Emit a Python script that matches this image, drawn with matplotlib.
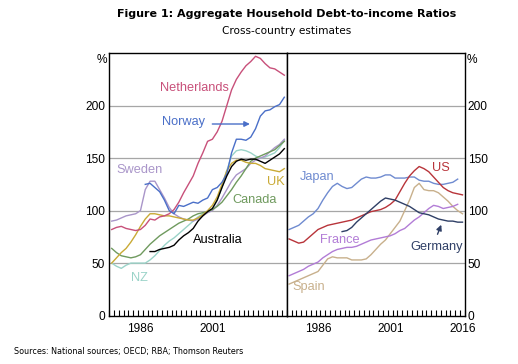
import matplotlib
matplotlib.use("Agg")
import matplotlib.pyplot as plt
import numpy as np

# ---------------- data (annual, plotted at mid-year) ----------------
yrs_full = list(range(1980, 2017))

netherlands = [82, 84, 85, 83, 82, 81, 82, 86, 92, 91, 94, 95, 97, 101, 108, 117, 125, 133, 145, 155,
               166, 168, 175, 185, 200, 215, 225, 232, 238, 242, 247, 245, 240, 236, 235, 232, 229]
sweden = [90, 91, 93, 95, 96, 97, 100, 120, 128, 128, 120, 112, 103, 97, 94, 92, 91, 90, 92, 95,
          98, 100, 105, 112, 120, 128, 134, 137, 140, 145, 148, 150, 152, 156, 160, 163, 168]
uk = [50, 55, 60, 64, 70, 77, 85, 92, 97, 97, 96, 95, 95, 94, 93, 92, 91, 91, 93, 96,
      100, 105, 113, 125, 138, 145, 148, 148, 146, 145, 145, 143, 140, 139, 138, 137, 140]
canada = [64, 60, 57, 56, 55, 56, 58, 63, 68, 72, 76, 79, 82, 85, 88, 90, 92, 95, 97, 98,
          99, 101, 104, 108, 114, 120, 127, 133, 140, 147, 150, 152, 154, 156, 158, 162, 166]
nz = [50, 47, 45, 48, 50, 50, 50, 50, 53, 57, 62, 67, 71, 74, 78, 82, 86, 90, 94, 97,
      99, 101, 110, 122, 138, 152, 157, 158, 157, 155, 152, 150, 151, 153, 155, 160, 167]

yrs_norway = list(range(1987, 2017))
norway = [125, 126, 122, 118, 110, 100, 97, 105, 104, 106, 108, 107, 110, 112, 120, 122, 127, 135,
          155, 168, 168, 167, 170, 178, 190, 195, 196, 199, 201, 208]

yrs_australia = list(range(1988, 2017))
australia = [61, 61, 63, 64, 65, 67, 72, 76, 79, 83, 90, 95, 99, 102, 110, 122, 133, 142, 147, 149,
             148, 149, 149, 147, 145, 148, 151, 154, 159]

yrs_japan = list(range(1980, 2016))
japan = [82, 84, 86, 90, 94, 97, 102, 110, 117, 123, 126, 123, 121, 122, 126, 130, 132, 131, 131, 132,
         134, 134, 131, 131, 131, 132, 132, 129, 128, 128, 126, 125, 125, 126, 127, 130]
us = [73, 71, 69, 70, 74, 78, 82, 84, 86, 87, 88, 89, 90, 91, 93, 95, 97, 99, 100, 101,
      103, 106, 110, 118, 126, 133, 138, 142, 140, 137, 132, 127, 122, 119, 117, 116, 115]
yrs_france = list(range(1980, 2016))
france = [38, 40, 42, 44, 47, 49, 51, 55, 58, 61, 63, 64, 65, 65, 66, 68, 70, 72, 73, 74,
          75, 76, 78, 81, 83, 87, 91, 94, 98, 102, 105, 104, 102, 103, 104, 106]
spain = [30, 32, 34, 36, 38, 40, 42, 48, 54, 56, 55, 55, 55, 53, 53, 53, 54, 58, 63, 68,
         72, 78, 84, 90, 100, 110, 122, 126, 120, 119, 119, 117, 113, 109, 104, 100, 97]
yrs_germany = list(range(1991, 2017))
germany = [80, 81, 84, 89, 93, 97, 101, 105, 109, 112, 111, 110, 108, 106, 104, 101, 98, 97, 96, 94,
           92, 91, 90, 90, 89, 89]

yticks = [0, 50, 100, 150, 200]
xlabel_years = [1986, 2001, 2016]

# ---------------- figure ----------------
fig = plt.figure(figsize=(5.18, 3.64), dpi=100)
axL = fig.add_axes([0.211, 0.133, 0.3425, 0.721])
axR = fig.add_axes([0.5535, 0.133, 0.344, 0.721])

tickfont = dict(family="Liberation Sans", size=8.6)
labfont = "Liberation Sans"
lw = 1.0

def mid(ys):
    return np.array(ys) + 0.5

C = dict(netherlands="#c8507a", norway="#4a6fc8", sweden="#a995c9", uk="#c9aa35",
         canada="#6f9a5e", australia="#000000", nz="#9ad3c8",
         japan="#6f8bd0", us="#b8343a", france="#b27cd6", germany="#2f3f66", spain="#c8b08c")

for ax in (axL, axR):
    ax.set_xlim(1980, 2017)
    ax.set_ylim(0, 250)
    for y in yticks[1:]:
        ax.axhline(y, color="#a6a6a6", lw=0.9, zorder=0)
    for s in ax.spines.values():
        s.set_color("black")
        s.set_linewidth(1.0)
    ax.set_xticks(np.arange(1980, 2018), minor=True)
    ax.tick_params(axis="x", which="minor", direction="in", length=4, width=0.8)
    ax.tick_params(axis="x", which="major", length=0, pad=5)
    ax.set_yticks(yticks)
    ax.tick_params(axis="y", length=0)

# left panel series
axL.plot(mid(yrs_full), nz, color=C["nz"], lw=lw)
axL.plot(mid(yrs_full), sweden, color=C["sweden"], lw=lw)
axL.plot(mid(yrs_full), canada, color=C["canada"], lw=lw)
axL.plot(mid(yrs_full), uk, color=C["uk"], lw=lw)
axL.plot(mid(yrs_full), netherlands, color=C["netherlands"], lw=lw)
axL.plot(mid(yrs_norway), norway, color=C["norway"], lw=lw)
axL.plot(mid(yrs_australia), australia, color=C["australia"], lw=lw)

# right panel series
axR.plot(mid(yrs_full), spain, color=C["spain"], lw=lw)
axR.plot(mid(yrs_france), france, color=C["france"], lw=lw)
axR.plot(mid(yrs_japan), japan, color=C["japan"], lw=lw)
axR.plot(mid(yrs_full), us, color=C["us"], lw=lw)
axR.plot(mid(yrs_germany), germany, color=C["germany"], lw=lw)

# ticks / labels
axL.set_xticks([y + 0.5 for y in xlabel_years[:2]])
axL.set_xticklabels([str(y) for y in xlabel_years[:2]], **tickfont)
axR.set_xticks([y + 0.5 for y in xlabel_years])
axR.set_xticklabels([str(y) for y in xlabel_years], **tickfont)

axL.set_yticklabels([str(v) for v in yticks], **tickfont)
axL.tick_params(axis="y", pad=3)
axR.yaxis.tick_right()
axR.set_yticklabels([str(v) for v in yticks], **tickfont)
axR.tick_params(axis="y", pad=2)

axL.text(-0.012, 0.972, "%", transform=axL.transAxes, ha="right", va="center", **tickfont)
axR.text(1.01, 0.972, "%", transform=axR.transAxes, ha="left", va="center", **tickfont)

def lab(ax, x, y, s, c):
    ax.text(x, y, s, color=c, ha="center", va="center", family=labfont, fontsize=9.2)

lab(axL, 1997.7, 217, "Netherlands", C["netherlands"])
lab(axL, 1995.5, 184.5, "Norway", C["norway"])
axL.annotate("", xy=(2009.9, 182.5), xytext=(2000.9, 182.5),
             arrowprops=dict(arrowstyle="-|>", color=C["norway"], lw=1.0, mutation_scale=8))
lab(axL, 1986.4, 138.5, "Sweden", C["sweden"])
lab(axL, 2014.7, 127, "UK", C["uk"])
lab(axL, 2010.2, 109.7, "Canada", C["canada"])
lab(axL, 2002.7, 71.6, "Australia", C["australia"])
lab(axL, 1986.3, 35.7, "NZ", C["nz"])

lab(axR, 1986.4, 132, "Japan", C["japan"])
lab(axR, 2012.0, 140.6, "US", C["us"])
lab(axR, 1991.0, 71.6, "France", C["france"])
lab(axR, 2011.2, 65.3, "Germany", C["germany"])
axR.annotate("", xy=(2012.3, 89), xytext=(2011.1, 75),
             arrowprops=dict(arrowstyle="-|>", color=C["germany"], lw=1.0, mutation_scale=8))
lab(axR, 1984.6, 27.1, "Spain", C["spain"])

fig.text(0.553, 0.962, "Figure 1: Aggregate Household Debt-to-income Ratios",
         ha="center", va="center", fontsize=8.0, fontweight="bold", family="DejaVu Sans")
fig.text(0.553, 0.915, "Cross-country estimates", ha="center", va="center",
         fontsize=7.6, family="DejaVu Sans")
fig.text(0.027, 0.033, "Sources: National sources; OECD; RBA; Thomson Reuters",
         ha="left", va="center", fontsize=5.8, family="DejaVu Sans")

fig.savefig("out.png", dpi=100)
